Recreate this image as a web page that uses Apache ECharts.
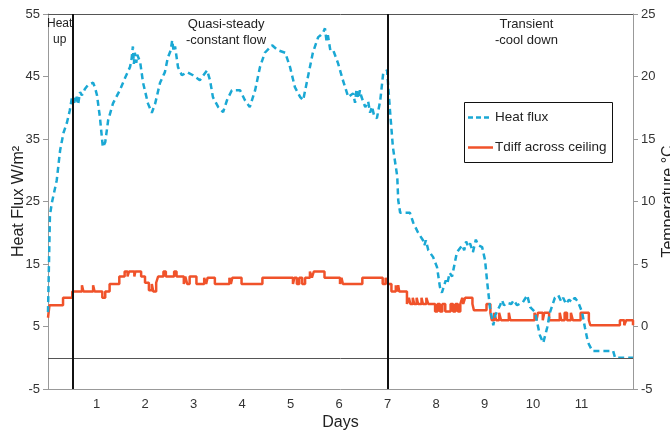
<!DOCTYPE html>
<html>
<head>
<meta charset="utf-8">
<script src="https://cdn.jsdelivr.net/npm/echarts@6/dist/echarts.min.js"></script>
<style>
html,body{margin:0;padding:0;background:#fff;}
#chart{width:670px;height:431px;}
</style>
</head>
<body>
<div id="chart"></div>
<script>
// ---- data: [day, heat flux W/m²] ----
const heatFlux = [
  [0.00,7.3],[0.04,22.8],[0.08,24.8],[0.18,28.4],[0.25,33.2],[0.32,36],[0.39,37.6],[0.45,39.6],[0.49,41.5],[0.54,40.8],
  [0.58,42],[0.62,40.5],[0.66,42.5],[0.70,42],[0.76,43],[0.82,43.6],[0.93,44],[0.97,43.2],[1.01,42],[1.07,38.5],
  [1.13,33.7],[1.18,34.5],[1.24,38],[1.34,40.7],[1.48,42.8],[1.59,44.8],[1.69,46.5],[1.72,47.6],[1.75,49.8],[1.77,47.0],
  [1.79,48.8],[1.82,47.2],[1.84,48.5],[1.90,47.3],[1.96,44],[2.06,40.7],[2.14,39.2],[2.21,40.7],[2.31,44],[2.41,45.7],
  [2.47,48],[2.53,49.2],[2.56,50.8],[2.59,49.0],[2.62,49.8],[2.68,46.5],[2.76,45.2],[2.87,45.7],[2.99,45.2],[3.13,44.4],
  [3.28,46],[3.34,44.4],[3.40,41.7],[3.51,40.1],[3.61,39.3],[3.69,41.2],[3.79,42.8],[3.96,42.8],[4.06,41.2],[4.16,40.1],
  [4.27,42.8],[4.37,46.5],[4.47,48.8],[4.62,50],[4.74,49.2],[4.89,48.8],[4.99,46.5],[5.09,43.3],[5.20,41.7],[5.26,41.2],
  [5.36,45],[5.46,48.8],[5.57,51.3],[5.62,51.6],[5.67,52],[5.71,52.7],[5.74,50.8],[5.77,51.6],[5.82,49.2],[5.88,49.2],
  [5.98,47.1],[6.08,44.4],[6.19,41.7],[6.29,42.3],[6.33,40.8],[6.36,43.0],[6.40,41.5],[6.43,42.8],[6.46,41.8],[6.54,40.1],
  [6.60,41.0],[6.64,39.2],[6.68,40.2],[6.72,38.8],[6.78,38.3],[6.85,41.2],[6.91,45.5],[6.99,46],[7.05,39.6],[7.11,33.7],
  [7.20,29],[7.22,25.2],[7.26,23.2],[7.46,23.2],[7.53,21.6],[7.63,20],[7.73,18.8],[7.76,18.0],[7.79,18.8],[7.84,17.2],
  [7.94,16.1],[8.02,14.5],[8.08,11.3],[8.12,10.4],[8.20,12.4],[8.23,11.8],[8.28,13.6],[8.33,13.0],[8.43,16.9],[8.54,18],
  [8.58,17.2],[8.62,18.6],[8.66,17.8],[8.70,18.3],[8.76,16.9],[8.82,18.9],[8.87,18.0],[8.95,17.7],[9.01,15.6],[9.05,12.4],
  [9.11,8.1],[9.18,5.2],[9.22,6.8],[9.32,8.4],[9.36,9.2],[9.40,8.4],[9.46,8.8],[9.55,8.6],[9.60,9.2],[9.67,8.4],
  [9.79,8.9],[9.88,10],[9.94,8.1],[10.04,7.3],[10.14,3.6],[10.21,2.4],[10.29,4.8],[10.35,7.3],[10.45,9.6],[10.52,10],
  [10.58,9.0],[10.62,9.6],[10.68,8.6],[10.74,9.3],[10.80,8.9],[10.86,9.6],[10.93,8.9],[11.01,7.3],[11.07,4.8],[11.13,2.5],
  [11.22,1.1],[11.65,1.1],[11.69,0],[12.06,0]
];

// ---- data: [day, temperature difference °C] (stepped record) ----
const tdiff = [
  [0.00,0.7],[0.03,1.7],[0.31,2.3],[0.50,2.8],[0.70,3.3],[0.73,2.8],[0.93,3.3],[0.96,2.8],[1.12,2.3],[1.18,2.8],
  [1.27,3.4],[1.47,4.0],[1.58,4.4],[1.64,4.0],[1.67,4.4],[1.78,4.0],[1.80,4.4],[1.92,4.0],[2.00,3.5],[2.08,2.9],
  [2.14,3.4],[2.17,2.8],[2.23,3.5],[2.27,4.0],[2.38,4.4],[2.43,4.0],[2.60,4.4],[2.65,4.0],[2.80,3.4],[2.83,4.0],
  [2.87,3.4],[2.92,4.0],[3.06,3.4],[3.22,3.9],[3.26,3.4],[3.29,3.9],[3.44,3.4],[3.74,3.9],[3.77,3.4],[3.80,3.9],
  [3.99,3.4],[4.42,3.9],[5.05,3.4],[5.08,3.9],[5.13,3.4],[5.18,3.9],[5.24,3.4],[5.30,3.9],[5.40,4.4],[5.44,3.9],
  [5.48,4.4],[5.70,3.9],[6.02,3.4],[6.05,3.9],[6.08,3.4],[6.48,3.9],[6.90,3.4],[6.96,3.9],[7.00,3.4],[7.08,2.8],
  [7.17,3.3],[7.19,2.8],[7.22,3.3],[7.24,2.8],[7.40,1.8],[7.44,2.3],[7.47,1.8],[7.52,2.3],[7.55,1.8],[7.60,2.3],
  [7.63,1.8],[7.70,2.3],[7.73,1.8],[7.80,2.3],[7.84,1.8],[7.98,1.2],[8.03,1.8],[8.08,1.2],[8.13,1.8],[8.19,1.2],
  [8.30,1.8],[8.35,1.2],[8.40,1.8],[8.45,1.2],[8.50,1.8],[8.54,2.3],[8.56,1.8],[8.60,2.3],[8.75,1.8],[8.78,1.3],
  [9.04,1.8],[9.12,1.1],[9.15,0.5],[9.20,1.1],[9.24,0.5],[9.30,1.1],[9.34,0.5],[9.50,1.1],[9.53,0.5],[10.03,1.1],
  [10.07,0.5],[10.10,1.1],[10.20,0.5],[10.23,1.1],[10.33,0.5],[10.55,1.1],[10.58,0.5],[10.65,1.1],[10.70,0.5],[10.78,1.1],
  [10.82,0.5],[10.98,1.1],[11.15,0.5],[11.18,0.1],[11.79,0.5],[11.88,0.1],[11.92,0.5],[12.06,0.1]
];

const xTickLabels = ['1','2','3','4','5','6','7','8','9','10','11'];
const leftTicks = [-5,5,15,25,35,45,55];
const rightTicks = [-5,0,5,10,15,20,25];
const phaseLines = [0.5, 7];
const phaseNames = ['Heat\nup', 'Quasi-steady\n-constant flow', 'Transient\n-cool down'];
const seriesNames = ['Heat flux', 'Tdiff across ceiling'];

const FONT = 'Liberation Sans, Arial, sans-serif';
const CYAN = '#1aa8d4', ORANGE = '#f0522a';
const chart = echarts.init(document.getElementById('chart'), null, {renderer:'canvas'});

const option = {
  animation: false,
  textStyle: {fontFamily: FONT},
  grid: {left: 48, right: 37, top: 14, bottom: 42, containLabel: false, outerBoundsMode: 'none'},
  legend: {show: false},
  xAxis: [{
    type: 'value', min: 0, max: 12.06, interval: 1,
    name: 'Days', nameLocation: 'middle', nameGap: 26, nameMoveOverlap: false,
    nameTextStyle: {fontSize: 16, color: '#222', fontFamily: FONT},
    axisLine: {show: true, onZero: false, lineStyle: {color: '#999', width: 1}},
    axisTick: {show: false},
    splitLine: {show: false},
    axisLabel: {
      fontSize: 13, color: '#333', margin: 9, fontFamily: FONT,
      showMinLabel: false, showMaxLabel: false,
      formatter: v => {
        const i = xTickLabels.indexOf(String(v));
        return i >= 0 ? xTickLabels[i] : '';
      }
    }
  }, {
    type: 'value', position: 'top', min: 0, max: 12.06,
    axisLine: {show: true, onZero: false, lineStyle: {color: '#555', width: 1}},
    axisTick: {show: false}, axisLabel: {show: false}, splitLine: {show: false}
  }],
  yAxis: [{
    type: 'value', min: -5, max: 55, interval: 10,
    name: 'Heat Flux W/m²', nameLocation: 'middle', nameGap: 21, nameRotate: 90, nameMoveOverlap: false,
    nameTextStyle: {fontSize: 16, color: '#222', fontFamily: FONT},
    axisLine: {show: true, onZero: false, lineStyle: {color: '#999', width: 1}},
    axisTick: {show: true, inside: false, length: 5, lineStyle: {color: '#999'}},
    splitLine: {show: false},
    axisLabel: {fontSize: 13, color: '#333', margin: 8, fontFamily: FONT,
      formatter: v => leftTicks.includes(v) ? String(v) : ''}
  }, {
    type: 'value', min: -5, max: 25, interval: 5, position: 'right',
    name: 'Temperature °C', nameLocation: 'middle', nameGap: 28, nameRotate: 90, nameMoveOverlap: false,
    nameTextStyle: {fontSize: 16, color: '#222', fontFamily: FONT},
    axisLine: {show: true, onZero: false, lineStyle: {color: '#999', width: 1}},
    axisTick: {show: true, inside: false, length: 5, lineStyle: {color: '#999'}},
    splitLine: {show: false},
    axisLabel: {fontSize: 13, color: '#333', margin: 8, fontFamily: FONT,
      formatter: v => rightTicks.includes(v) ? String(v) : ''}
  }],
  graphic: [
    {type: 'text', left: 47, top: 16, style: {text: phaseNames[0], font: '12px ' + FONT, fill: '#222', textAlign: 'center', lineHeight: 16}, z: 10},
    {type: 'text', left: 186, top: 16, style: {text: phaseNames[1], font: '13px ' + FONT, fill: '#222', textAlign: 'center', lineHeight: 16}, z: 10},
    {type: 'text', left: 495, top: 16, style: {text: phaseNames[2], font: '13px ' + FONT, fill: '#222', textAlign: 'center', lineHeight: 16}, z: 10},
    // legend box
    {type: 'group', left: 464, top: 102, z: 20, children: [
      {type: 'rect', shape: {x: 0.5, y: 0.5, width: 148, height: 60}, style: {fill: '#fff', stroke: '#111', lineWidth: 1}},
      {type: 'line', shape: {x1: 4, y1: 15.5, x2: 27, y2: 15.5}, style: {stroke: CYAN, lineWidth: 2.5, lineDash: [5, 3]}},
      {type: 'text', x: 31, y: 15.5, style: {text: seriesNames[0], font: '13.5px ' + FONT, fill: '#222', textVerticalAlign: 'middle'}},
      {type: 'line', shape: {x1: 4, y1: 45.5, x2: 29, y2: 45.5}, style: {stroke: ORANGE, lineWidth: 2.5}},
      {type: 'text', x: 31, y: 45.5, style: {text: seriesNames[1], font: '13.5px ' + FONT, fill: '#222', textVerticalAlign: 'middle'}}
    ]}
  ],
  series: [{
    name: seriesNames[0], type: 'line', xAxisIndex: 0, yAxisIndex: 0,
    data: heatFlux, symbol: 'none', showSymbol: false, smooth: false,
    lineStyle: {color: CYAN, width: 2.5, type: [6, 4]},
    itemStyle: {color: CYAN},
    z: 3,
    markLine: {
      silent: true, symbol: 'none', label: {show: false},
      data: [
        {yAxis: 0, lineStyle: {color: '#555', width: 1, type: 'solid'}},
        {xAxis: phaseLines[0], lineStyle: {color: '#111', width: 2, type: 'solid'}},
        {xAxis: phaseLines[1], lineStyle: {color: '#111', width: 2, type: 'solid'}}
      ]
    }
  }, {
    name: seriesNames[1], type: 'line', xAxisIndex: 0, yAxisIndex: 1,
    data: tdiff, step: 'end', symbol: 'none', showSymbol: false,
    lineStyle: {color: ORANGE, width: 2.5},
    itemStyle: {color: ORANGE},
    z: 2
  }]
};
chart.setOption(option);
</script>
</body>
</html>
